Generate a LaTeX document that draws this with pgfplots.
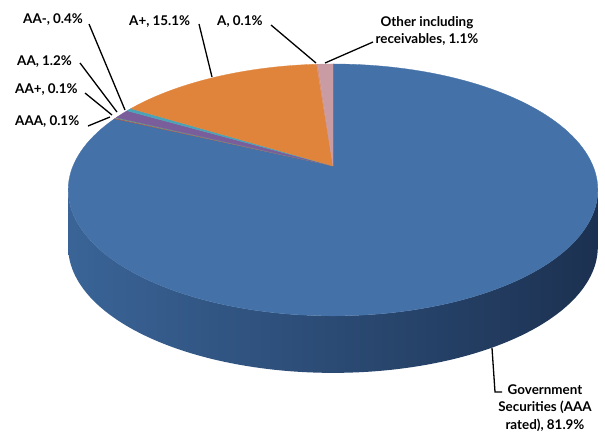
\documentclass[border=0pt]{standalone}
\usepackage{pgfplots}
\pgfplotsset{compat=1.18}
\usepackage{fontspec}
\setmainfont{Lato}
\definecolor{gov}{HTML}{4471A7}
\definecolor{sideL}{HTML}{3A6497}
\definecolor{sideM}{HTML}{2D5282}
\definecolor{sideR}{HTML}{1C3151}
\definecolor{cAAA}{HTML}{B4504D}
\definecolor{cAAp}{HTML}{5FA88A}
\definecolor{cAA}{HTML}{7A5E9C}
\definecolor{cAAm}{HTML}{4BA3B8}
\definecolor{cAp}{HTML}{E0843C}
\definecolor{cA}{HTML}{D8907A}
\definecolor{cOth}{HTML}{C99CA4}
% shares in percent
\def\vGov{81.9}\def\vAAA{0.1}\def\vAAp{0.1}\def\vAA{1.2}
\def\vAAm{0.4}\def\vAp{15.1}\def\vA{0.1}\def\vOth{1.1}
\pgfmathsetmacro\cA{\vGov*3.6}
\pgfmathsetmacro\cB{\cA+\vAAA*3.6}
\pgfmathsetmacro\cC{\cB+\vAAp*3.6}
\pgfmathsetmacro\cD{\cC+\vAA*3.6}
\pgfmathsetmacro\cE{\cD+\vAAm*3.6}
\pgfmathsetmacro\cF{\cE+\vAp*3.6}
\pgfmathsetmacro\cG{\cF+\vA*3.6}
\pgfmathsetmacro\cH{\cG+\vOth*3.6}
\begin{document}
\begin{tikzpicture}
\begin{axis}[
  scale only axis, width=605pt, height=432pt,
  xmin=0, xmax=605, ymin=0, ymax=432, y dir=reverse,
  hide axis, clip=false,
  declare function={
    PX(\t)=333+260*sin(\t)/(1+0.19*cos(\t));
    PY(\t)=166-121.4*cos(\t)/(1+0.19*cos(\t));
  },
]
% side wall
\addplot[draw=none, left color=sideL, middle color=sideM, right color=sideR,
  domain=0:2, samples=201]
  ({(x<=1) ? PX(101+158*x) : PX(259-158*(x-1))},
   {(x<=1) ? PY(101+158*x) : PY(259-158*(x-1))+57}) -- cycle;
% top face
\addplot[fill=gov, draw=gov, line width=0.3pt, domain=0:\cA, samples=150]
  ({PX(x)},{PY(x)}) -- (axis cs:333,166) -- cycle;
\addplot[fill=cAAA, draw=cAAA, line width=0.3pt, domain=\cA:\cB, samples=5]
  ({PX(x)},{PY(x)}) -- (axis cs:333,166) -- cycle;
\addplot[fill=cAAp, draw=cAAp, line width=0.3pt, domain=\cB:\cC, samples=5]
  ({PX(x)},{PY(x)}) -- (axis cs:333,166) -- cycle;
\addplot[fill=cAA, draw=cAA, line width=0.3pt, domain=\cC:\cD, samples=10]
  ({PX(x)},{PY(x)}) -- (axis cs:333,166) -- cycle;
\addplot[fill=cAAm, draw=cAAm, line width=0.3pt, domain=\cD:\cE, samples=5]
  ({PX(x)},{PY(x)}) -- (axis cs:333,166) -- cycle;
\addplot[fill=cAp, draw=cAp, line width=0.3pt, domain=\cE:\cF, samples=60]
  ({PX(x)},{PY(x)}) -- (axis cs:333,166) -- cycle;
\addplot[fill=cA, draw=cA, line width=0.3pt, domain=\cF:\cG, samples=5]
  ({PX(x)},{PY(x)}) -- (axis cs:333,166) -- cycle;
\addplot[fill=cOth, draw=cOth, line width=0.3pt, domain=\cG:\cH, samples=8]
  ({PX(x)},{PY(x)}) -- (axis cs:333,166) -- cycle;
% leader lines
\draw[line width=1.3pt] (axis cs:88,126) -- (axis cs:110,117);
\draw[line width=1.3pt] (axis cs:85,93) -- (axis cs:112,115);
\draw[line width=1.3pt] (axis cs:80,63) -- (axis cs:117,112);
\draw[line width=1.3pt] (axis cs:89,24) -- (axis cs:125,110);
\draw[line width=1.3pt] (axis cs:199,24) -- (axis cs:212,77);
\draw[line width=1.3pt] (axis cs:271,25) -- (axis cs:316,63);
\draw[line width=1.3pt] (axis cs:373,42) -- (axis cs:325,63);
\draw[line width=1.3pt] (axis cs:492,348) -- (axis cs:495,392) -- (axis cs:502,392);
% labels
\begin{scope}[every node/.style={inner sep=0pt, font=\bfseries\fontsize{13.4}{17.5}\selectfont}]
\node[anchor=west] at (axis cs:15,122) {AAA, 0.1\%};
\node[anchor=west] at (axis cs:15,90) {AA+, 0.1\%};
\node[anchor=west] at (axis cs:17,62) {AA, 1.2\%};
\node[anchor=west] at (axis cs:23,20) {AA-, 0.4\%};
\node[anchor=west] at (axis cs:129,22) {A+, 15.1\%};
\node[anchor=west] at (axis cs:217,22) {A, 0.1\%};
\node[align=center] at (axis cs:427,31) {Other including\\receivables, 1.1\%};
\node[align=center] at (axis cs:545,408) {Government\\Securities (AAA\\rated), 81.9\%};
\end{scope}
\end{axis}
\pgfresetboundingbox
\path (0,0) rectangle (605pt,432pt);
\end{tikzpicture}
\end{document}
